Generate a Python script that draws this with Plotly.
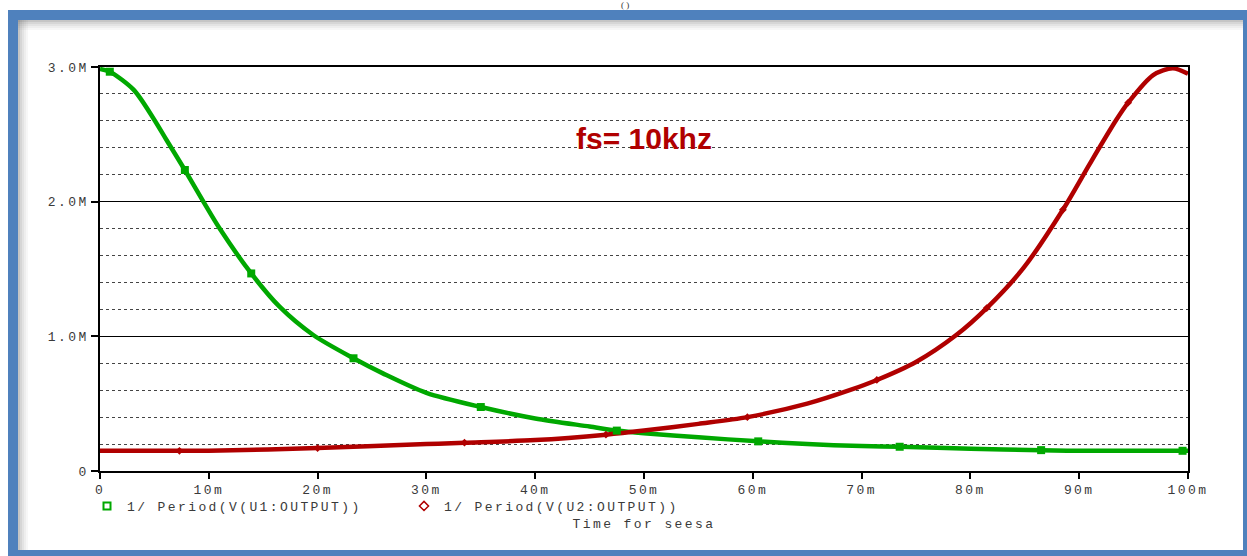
import plotly.graph_objects as go

# ---- data (time in ms, values in M) ----
t_u1 = [0, 0.9, 3.1, 4.9, 6.1, 7.8, 9.5, 11.0, 13.9, 16.5, 19.6, 23.3, 26, 30, 35, 40, 45, 47.5, 50, 55, 60.5, 65, 70, 73.5, 80, 86.5, 90, 100]
u1 = [2.985, 2.965, 2.83, 2.62, 2.46, 2.235, 2.0, 1.80, 1.467, 1.22, 1.01, 0.837, 0.725, 0.58, 0.475, 0.39, 0.33, 0.30, 0.28, 0.25, 0.22, 0.20, 0.185, 0.18, 0.165, 0.155, 0.15, 0.15]
t_u1_mk = [0.9, 7.8, 13.9, 23.3, 35, 47.5, 60.5, 73.5, 86.5, 99.5]
u1_mk = [2.965, 2.235, 1.467, 0.837, 0.475, 0.30, 0.22, 0.18, 0.155, 0.15]

t_u2 = [0, 7.3, 10, 20, 30, 33.5, 40, 46.5, 50, 55, 59.5, 65, 68.9, 71.4, 75, 78.7, 81.5, 84.9, 88.5, 91.0, 93.4, 94.5, 96.8, 98.6, 100]
u2 = [0.15, 0.15, 0.15, 0.17, 0.20, 0.21, 0.23, 0.27, 0.30, 0.35, 0.40, 0.50, 0.60, 0.676, 0.81, 1.01, 1.21, 1.51, 1.94, 2.285, 2.606, 2.735, 2.94, 2.99, 2.95]
t_u2_mk = [7.3, 20, 33.5, 46.5, 59.5, 71.4, 81.5, 88.5, 94.5]
u2_mk = [0.15, 0.17, 0.21, 0.27, 0.40, 0.676, 1.21, 1.94, 2.735]

x_ticks = [0, 10, 20, 30, 40, 50, 60, 70, 80, 90, 100]
x_labels = ["0", "10m", "20m", "30m", "40m", "50m", "60m", "70m", "80m", "90m", "100m"]
y_ticks = [0, 1.0, 2.0, 3.0]
y_labels = ["0", "1.0M", "2.0M", "3.0M"]

name_u1 = "1/ Period(V(U1:OUTPUT))"
name_u2 = "1/ Period(V(U2:OUTPUT))"
x_title = "Time for seesa"
note = "fs= 10khz"

GREEN = "#00A800"
RED = "#B00000"
TXT = "#3A3A3A"
MONO = "Liberation Mono, Courier New, monospace"
FS = 13


def sp(s, ls=2.4):
    return f"<span style='letter-spacing:{ls}px'>{s}</span>"


fig = go.Figure()
fig.add_trace(go.Scatter(x=t_u1, y=u1, mode="lines", line=dict(color=GREEN, width=4.5, shape="spline", smoothing=0.8),
                         showlegend=False, hoverinfo="skip"))
fig.add_trace(go.Scatter(x=t_u2, y=u2, mode="lines", line=dict(color=RED, width=4.5, shape="spline", smoothing=0.8),
                         showlegend=False, hoverinfo="skip"))
fig.add_trace(go.Scatter(x=t_u1_mk, y=u1_mk, mode="markers", marker=dict(symbol="square", size=8, color=GREEN),
                         showlegend=False, cliponaxis=False))
fig.add_trace(go.Scatter(x=t_u2_mk, y=u2_mk, mode="markers", marker=dict(symbol="diamond", size=6, color=RED),
                         showlegend=False))
# legend entries
fig.add_trace(go.Scatter(x=[None], y=[None], mode="markers", name=sp(name_u1),
                         marker=dict(symbol="square-open", size=7, color=GREEN, line=dict(width=2, color=GREEN))))
fig.add_trace(go.Scatter(x=[None], y=[None], mode="markers", name=sp(name_u2),
                         marker=dict(symbol="diamond-open", size=7, color=RED, line=dict(width=1.5, color=RED))))

W, H = 1247, 556
L, R, T, B = 100, 59, 67, 85
pw, ph = W - L - R, H - T - B


def px(x):
    return (x - L) / pw


def py(y):
    return (H - B - y) / ph


shapes = []
BLUE = "#4F81BD"
# inner shadow (soft grey fading along top and left)
for i, a in enumerate([0.35, 0.25, 0.17, 0.10, 0.05]):
    shapes.append(dict(type="rect", xref="paper", yref="paper", x0=px(18), x1=px(1243),
                       y0=py(20 + i * 2), y1=py(22 + i * 2), fillcolor=f"rgba(90,90,90,{a})", line_width=0, layer="below"))
    shapes.append(dict(type="rect", xref="paper", yref="paper", x0=px(18 + i * 2), x1=px(20 + i * 2),
                       y0=py(550), y1=py(20), fillcolor=f"rgba(90,90,90,{a})", line_width=0, layer="below"))
# blue frame
for (x0, x1, y0, y1) in [(8, 18, 10, 556), (8, 1247, 10, 20), (1243, 1247, 10, 556), (8, 1247, 550, 556)]:
    shapes.append(dict(type="rect", xref="paper", yref="paper", x0=px(x0), x1=px(x1), y0=py(y0), y1=py(y1),
                       fillcolor=BLUE, line_width=0, layer="above"))

fig.update_layout(
    width=W, height=H,
    margin=dict(l=L, r=R, t=T, b=B),
    paper_bgcolor="white", plot_bgcolor="white",
    shapes=shapes,
    font=dict(family=MONO, size=FS, color=TXT),
    showlegend=True,
    legend=dict(orientation="h", x=px(87), xanchor="left", y=py(506), yanchor="middle",
                entrywidth=272, entrywidthmode="pixels", font=dict(family=MONO, size=FS, color=TXT),
                bgcolor="rgba(0,0,0,0)", itemclick=False),
    annotations=[
        dict(text=f"<b>{note}</b>", x=px(644), y=py(138), xref="paper", yref="paper", showarrow=False,
             xanchor="center", yanchor="middle",
             font=dict(family="Liberation Sans, Arial", size=30, color=RED)),
        dict(text="( )", x=px(625), y=py(5), xref="paper", yref="paper", showarrow=False,
             xanchor="center", yanchor="middle",
             font=dict(family="Liberation Serif", size=9, color="#333333")),
    ],
)
fig.update_xaxes(range=[0, 100], tickmode="array", tickvals=x_ticks, ticktext=[sp(s) for s in x_labels],
                 ticks="outside", ticklen=6, tickcolor="black", tickwidth=1.5,
                 showline=True, linecolor="black", linewidth=1.5, mirror=True,
                 showgrid=False, zeroline=False,
                 title=dict(text=sp(x_title), standoff=22, font=dict(family=MONO, size=FS, color=TXT)),
                 tickfont=dict(family=MONO, size=FS, color=TXT))
fig.update_yaxes(range=[0, 3.0], tickmode="array", tickvals=y_ticks, ticktext=[sp(s) for s in y_labels],
                 ticks="outside", ticklen=7, tickcolor="black", tickwidth=1.5,
                 showline=True, linecolor="black", linewidth=1.5, mirror=True,
                 showgrid=True, gridcolor="black", gridwidth=1, zeroline=False,
                 minor=dict(tick0=0, dtick=0.2, showgrid=True, gridcolor="#444444", griddash="dot", gridwidth=1),
                 tickfont=dict(family=MONO, size=FS, color=TXT))

fig.write_html("out.html", config={"displayModeBar": False},
               post_script="document.body.style.margin='0px';")
